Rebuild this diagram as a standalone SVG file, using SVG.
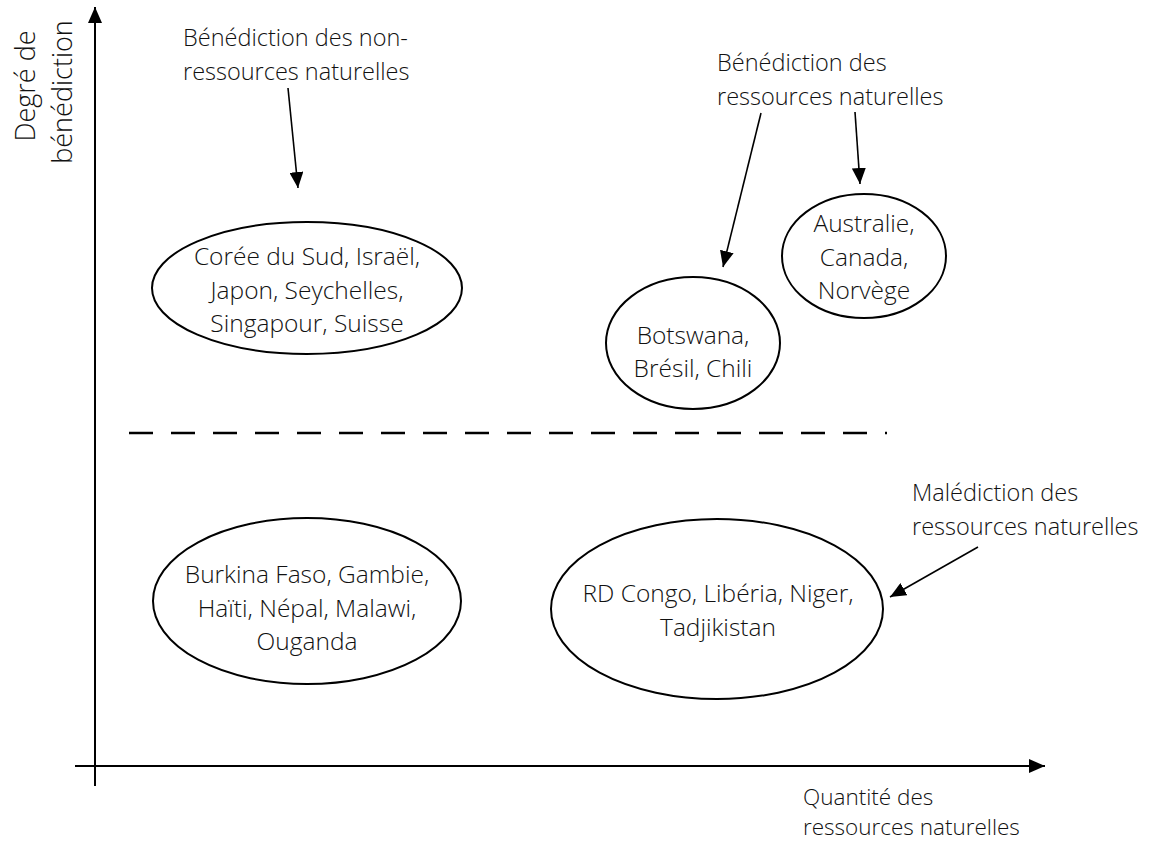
<svg xmlns="http://www.w3.org/2000/svg" width="1151" height="842" viewBox="0 0 1151 842">
<style>
  text { font-family: "Open Sans", "Noto Sans", "Liberation Sans", sans-serif; font-size: 23.5px; font-weight: 350; fill: #111; }
  .c { text-anchor: middle; }
  .n { font-size: 24.5px; }
  .yl { font-size: 27px; }
  .xl { font-size: 22.5px; }
  .ell { fill: none; stroke: #000; stroke-width: 2; }
  .arr { stroke: #000; stroke-width: 1.6; fill: none; marker-end: url(#ah); }
  .axis { stroke: #000; stroke-width: 2; fill: none; }
</style>
<defs>
  <marker id="ah" markerUnits="userSpaceOnUse" markerWidth="16" markerHeight="14" refX="16" refY="7" orient="auto">
    <path d="M0,0 L16,7 L0,14 z" fill="#000"/>
  </marker>
  <marker id="axh" markerUnits="userSpaceOnUse" markerWidth="16" markerHeight="14" refX="16" refY="7" orient="auto">
    <path d="M0,0 L16,7 L0,14 z" fill="#000"/>
  </marker>
</defs>
<rect width="1151" height="842" fill="#fff"/>

<g id="axes">
  <line class="axis" x1="95" y1="786" x2="95" y2="7" marker-end="url(#axh)"/>
  <line class="axis" x1="75" y1="766" x2="1045" y2="766" marker-end="url(#axh)"/>
  <line x1="129" y1="433" x2="887" y2="433" stroke="#000" stroke-width="2.5" stroke-dasharray="24 18"/>
</g>

<g id="ylabel">
  <text class="c yl" transform="translate(35,86) rotate(-90)">Degré de</text>
  <text class="c yl" transform="translate(72,92) rotate(-90)">bénédiction</text>
</g>

<g id="xlabel">
  <text class="xl" x="803" y="805">Quantité des</text>
  <text class="xl" x="803" y="835">ressources naturelles</text>
</g>

<g id="label-non-ressources">
  <text x="183" y="46">Bénédiction des non-</text>
  <text x="183" y="80">ressources naturelles</text>
</g>

<g id="label-benediction">
  <text x="717" y="71">Bénédiction des</text>
  <text x="717" y="105">ressources naturelles</text>
</g>

<g id="label-malediction">
  <text x="912" y="501">Malédiction des</text>
  <text x="912" y="535">ressources naturelles</text>
</g>

<g id="node-coree">
  <ellipse class="ell" cx="307" cy="288" rx="155" ry="66"/>
  <text class="c n" x="307" y="265">Corée du Sud, Israël,</text>
  <text class="c n" x="307" y="299">Japon, Seychelles,</text>
  <text class="c n" x="307" y="332">Singapour, Suisse</text>
</g>

<g id="node-botswana">
  <ellipse class="ell" cx="693" cy="343" rx="87" ry="66"/>
  <text class="c n" x="693" y="344">Botswana,</text>
  <text class="c n" x="693" y="377">Brésil, Chili</text>
</g>

<g id="node-australie">
  <ellipse class="ell" cx="864" cy="256" rx="82" ry="62"/>
  <text class="c n" x="864" y="232">Australie,</text>
  <text class="c n" x="864" y="266">Canada,</text>
  <text class="c n" x="864" y="299">Norvège</text>
</g>

<g id="node-burkina">
  <ellipse class="ell" cx="307" cy="601" rx="154" ry="83"/>
  <text class="c n" x="307" y="583">Burkina Faso, Gambie,</text>
  <text class="c n" x="307" y="617">Haïti, Népal, Malawi,</text>
  <text class="c n" x="307" y="650">Ouganda</text>
</g>

<g id="node-congo">
  <ellipse class="ell" cx="717" cy="609" rx="166" ry="90"/>
  <text class="c n" x="718" y="602">RD Congo, Libéria, Niger,</text>
  <text class="c n" x="718" y="636">Tadjikistan</text>
</g>

<g id="connectors">
  <line class="arr" x1="288" y1="88" x2="298" y2="188"/>
  <line class="arr" x1="761" y1="113" x2="723" y2="267"/>
  <line class="arr" x1="855" y1="112" x2="860" y2="184"/>
  <line class="arr" x1="978" y1="547" x2="890" y2="597"/>
</g>
</svg>
